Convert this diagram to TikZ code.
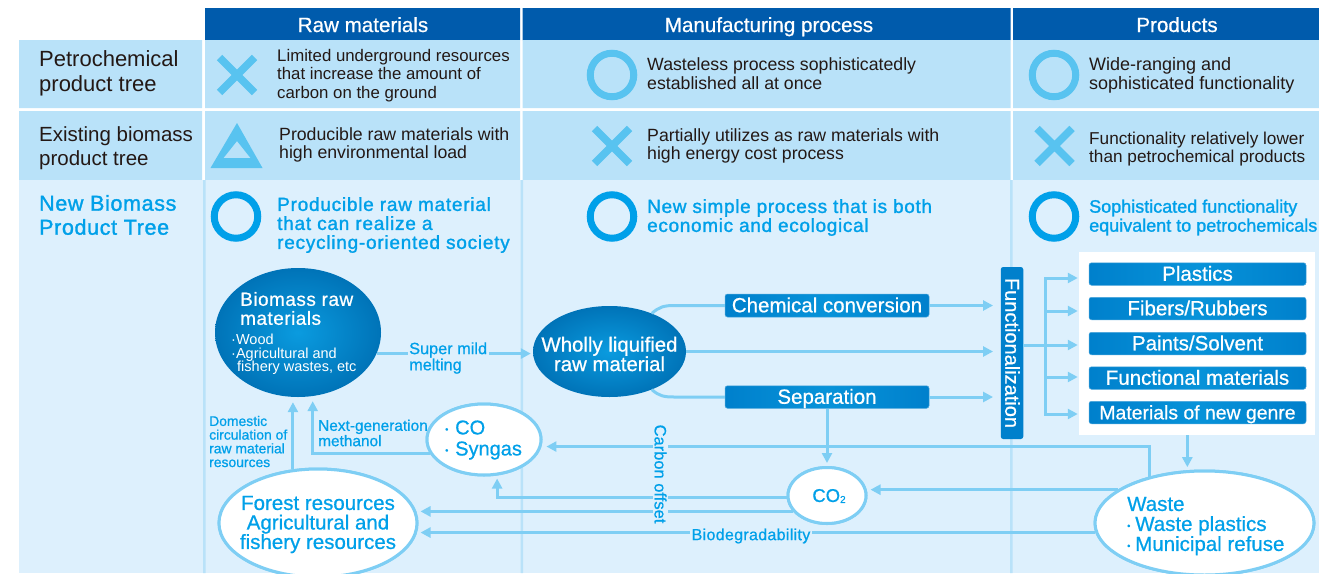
\documentclass[tikz,border=0pt]{standalone}
\usepackage{fontspec}
\setmainfont{Liberation Sans}
\newfontfamily\medfont[FakeBold=0.7]{Liberation Sans}
\newfontfamily\heavyfont[FakeBold=1.4]{Liberation Sans}
\usetikzlibrary{shapes.geometric,calc,arrows.meta}
\definecolor{headblue}{HTML}{005BAC}
\definecolor{rowblue}{HTML}{B9E2F9}
\definecolor{paleblue}{HTML}{DDF0FD}
\definecolor{iconblue}{HTML}{58C3F0}
\definecolor{cyanblue}{HTML}{00A0E9}
\definecolor{arrowblue}{HTML}{7ECEF4}
\definecolor{boxblue}{HTML}{0080CC}
\definecolor{boxlight}{HTML}{0A9BDF}
\definecolor{darktext}{HTML}{231815}
\newcommand{\fs}[2]{\fontsize{#1}{#2}\selectfont}
\newcommand{\ls}[1]{\addfontfeature{LetterSpace=#1}}
\newcommand{\blt}{\makebox[8pt][l]{\fs{9}{9}\raisebox{2pt}{•}}}
\tikzset{
  lbl/.style={anchor=west,inner sep=0pt,align=left,text=darktext},
  rowtitle/.style={lbl,font=\fs{20.5}{24}},
  celltext/.style={lbl,font=\fs{17.7}{18.8}},
  newtext/.style={lbl,text=cyanblue,font=\heavyfont\fs{19}{19}},
  headtext/.style={inner sep=0pt,text=white,text height=14.5pt,text depth=0.5pt,font=\medfont\fs{20.6}{22}},
  ring/.style={circle,draw,line width=7pt,minimum size=43.5pt,inner sep=0pt},
  crossmark/.style={draw=iconblue,line width=7.5pt},
  conn/.style={draw=arrowblue,line width=3pt},
  arr/.style={conn,-{Triangle[length=10pt,width=10pt]}},
  whiteell/.style={ellipse,draw=arrowblue,line width=3pt,fill=white,inner sep=0pt},
  darkell/.style={ellipse,inner sep=0pt,inner color=boxlight,outer color=boxblue!90!black},
  bluebox/.style={rectangle,rounded corners=2.5pt,draw=boxblue!70!white,line width=.5pt,inner sep=0pt,text=white,text height=14.5pt,text depth=1pt,left color=boxblue,right color=boxblue,middle color=boxlight!70!boxblue,font=\medfont\fs{20.5}{22}},
  barbox/.style={rectangle,rounded corners=2.5pt,fill=boxblue,inner sep=0pt,text=white,text height=14.5pt,text depth=1pt,font=\medfont\fs{20}{22}},
  tag/.style={inner sep=0pt,align=left,text=cyanblue,font=\medfont\fs{15.4}{14}},
  inell/.style={inner sep=0pt,align=left,text=cyanblue,font=\medfont\fs{20}{19.5}}
}
\begin{document}
\begin{tikzpicture}[x=1pt,y=-1pt]
\useasboundingbox (0,0) rectangle (1319,573);
\begin{scope}
\clip (0,0) rectangle (1319,573);
% bands
\fill[headblue] (205,8) rectangle (520,40) (522.5,8) rectangle (1010.5,40) (1013,8) rectangle (1319,40);
\fill[rowblue] (19,40) rectangle (202,108) (205,40) rectangle (520,108) (522.5,40) rectangle (1010.5,108) (1013,40) rectangle (1319,108);
\fill[rowblue] (19,111) rectangle (202,180) (205,111) rectangle (520,180) (522.5,111) rectangle (1010.5,180) (1013,111) rectangle (1319,180);
\fill[paleblue] (19,180) rectangle (1319,573);
\fill[rowblue] (203,180) rectangle (205.5,573) (520.5,180) rectangle (523,573) (1010,180) rectangle (1012.5,573);
% headers
\node[headtext] (h1) at (363,25) {Raw materials};
\node[headtext] (h2) at (769,25) {Manufacturing process};
\node[headtext] (h3) at (1177,25) {Products};
% row titles
\node[rowtitle,font=\fs{22}{24.5}] (t1) at (39,73.5) {Petrochemical\\product tree};
\node[rowtitle] (t2) at (39,148) {Existing biomass\\product tree};
\node[rowtitle,text=cyanblue,font=\heavyfont\fs{21.5}{24}\ls{3}] (t3) at (39,215) {New Biomass\\Product Tree};
% row 1
\draw[crossmark] (219.5,57.5) -- (254.5,92.5) (254.5,57.5) -- (219.5,92.5);
\node[celltext,font=\fs{16.8}{18.8}] (c11) at (277,75.5) {Limited underground resources\\that increase the amount of\\carbon on the ground};
\node[ring,draw=iconblue] (r12) at (612,75) {};
\node[celltext] (c12) at (647,74) {Wasteless process sophisticatedly\\established all at once};
\node[ring,draw=iconblue] (r13) at (1054,75) {};
\node[celltext,font=\fs{18}{18.8}] (c13) at (1089,75) {Wide-ranging and\\sophisticated functionality};
% row 2
\fill[iconblue,even odd rule] (237,123) -- (262.5,168) -- (210.5,168) -- cycle (237,141) -- (223.5,158) -- (250.5,158) -- cycle;
\node[celltext] (c21) at (279,145) {Producible raw materials with\\high environmental load};
\draw[crossmark] (594.5,128.5) -- (629.5,163.5) (629.5,128.5) -- (594.5,163.5);
\node[celltext] (c22) at (647,146) {Partially utilizes as raw materials with\\high energy cost process};
\draw[crossmark] (1037,128.5) -- (1072,163.5) (1072,128.5) -- (1037,163.5);
\node[celltext,font=\fs{17.2}{18.8}] (c23) at (1089,149) {Functionality relatively lower\\than petrochemical products};
% row 3
\node[ring,draw=cyanblue] (r31) at (236,216.5) {};
\node[newtext,font=\heavyfont\fs{19}{19}\ls{4}] (c31) at (277,225) {Producible raw material\\that can realize a\\recycling-oriented society};
\node[ring,draw=cyanblue] (r32) at (612,216.5) {};
\node[newtext,font=\heavyfont\fs{19}{19}\ls{3.5}] (c32) at (647,217.5) {New simple process that is both\\economic and ecological};
\node[ring,draw=cyanblue] (r33) at (1054,216.5) {};
\node[newtext,font=\heavyfont\fs{18}{19}] (c33) at (1089,217.5) {Sophisticated functionality\\equivalent to petrochemicals};
% main nodes
\node[darkell,minimum width=166pt,minimum height=129pt] (biomass) at (298,332.5) {};
\node[darkell,minimum width=153pt,minimum height=91pt] (wholly) at (609.5,351.5) {};
\node[whiteell,minimum width=114pt,minimum height=71pt] (co) at (484,439.5) {};
\node[whiteell,minimum width=198pt,minimum height=108pt] (forest) at (318,523) {};
\node[whiteell,minimum width=78pt,minimum height=56pt] (co2) at (827,495.5) {};
\node[whiteell,minimum width=219pt,minimum height=104pt] (waste) at (1204.5,523) {};
\node[fill=white,minimum width=236pt,minimum height=183pt,inner sep=0pt] (panel) at (1197,343.5) {};
\node[bluebox,minimum width=204pt,minimum height=23pt] (chem) at (827,305.5) {Chemical conversion};
\node[bluebox,minimum width=204pt,minimum height=22.5pt] (sep) at (827,397) {Separation};
\node[barbox,rotate=-90,minimum width=172pt,minimum height=22.5pt] (func) at (1012,353) {Functionalization};
\node[bluebox,minimum width=217pt,minimum height=22.5pt] (p1) at (1197.5,274) {Plastics};
\node[bluebox,minimum width=217pt,minimum height=22.5pt] (p2) at (1197.5,308.5) {Fibers/Rubbers};
\node[bluebox,minimum width=217pt,minimum height=22.5pt] (p3) at (1197.5,343.5) {Paints/Solvent};
\node[bluebox,minimum width=217pt,minimum height=22.5pt] (p4) at (1197.5,378) {Functional materials};
\node[bluebox,minimum width=217pt,minimum height=22.5pt,font=\medfont\fs{19.4}{22}] (p5) at (1197.5,412.5) {Materials of new genre};
\coordinate (trunk) at (1045,345);
\coordinate (bendtop) at (674,305.5);
\coordinate (bendbot) at (674,397);
% connectors
\draw[arr,shorten >=2pt] (biomass.-15.4) -- (biomass.-15.4 -| wholly.west);
\draw[arr,shorten >=5pt] (forest.115.6) -- (forest.115.6 |- biomass.south);
\draw[arr,shorten >=5pt] (co.195.6) -| (biomass.-77.6);
\draw[arr,shorten >=5pt] (waste.140.4) |- (co.-7);
\draw[arr,shorten >=3pt] (waste.159.5) -- (waste.159.5 -| co2.east);
\draw[arr,shorten >=2pt] (waste.185.8) -- (waste.185.8 -| forest.east);
\draw[arr,shorten >=3pt] (waste.108.8 |- panel.south) -- (waste.108.8);
\draw[arr,shorten >=3pt] (sep.south) -- (co2.north);
\draw[arr,shorten >=2pt] (co2.205.5) -- (co2.205.5 -| forest.east);
\draw[arr,shorten >=3pt] (co2.183.7) -| (co.-70.9);
\draw[conn] (wholly.42.6) .. controls (659,307) and (664,305.5) .. (bendtop) -- (chem.west);
\draw[conn] (wholly.-42.6) .. controls (659,396) and (664,397) .. (bendbot) -- (sep.west);
\draw[arr,shorten >=7.5pt] (chem.east) -- (chem.east -| func.south);
\draw[arr,shorten >=7.5pt] (wholly.east) -- (wholly.east -| func.south);
\draw[arr,shorten >=7.5pt] (sep.east) -- (sep.east -| func.south);
\draw[conn] (func.north |- trunk) -- (trunk);
\draw[arr] (trunk) |- ($(p1.west)+(-11,4)$);
\draw[arr] (trunk) |- ($(p2.west)+(-11,2.5)$);
\draw[arr] (trunk) -- ($(p3.west)+(-11,1.5)$);
\draw[arr] (trunk) |- ($(p4.west)+(-11,-1)$);
\draw[arr] (trunk) |- ($(p5.west)+(-11,1.5)$);
% redraw outlined ellipses over connector ends
\node[whiteell,minimum width=114pt,minimum height=71pt] (coT) at (co) {};
\node[whiteell,minimum width=198pt,minimum height=108pt] (forestT) at (forest) {};
\node[whiteell,minimum width=78pt,minimum height=56pt] (co2T) at (co2) {};
\node[whiteell,minimum width=219pt,minimum height=104pt] (wasteT) at (waste) {};
% ellipse texts
\node[inner sep=0pt,anchor=west,align=left,text=white,font=\medfont\fs{19}{19}\ls{2.5}] (bt1) at (240,308.5) {Biomass raw\\materials};
\node[inner sep=0pt,anchor=west,align=left,text=white,font=\fs{14.5}{13.6}] (bt2) at (231,354.5) {·Wood\\·Agricultural and\\\hspace*{6pt}fishery wastes, etc};
\node[inner sep=0pt,align=center,text=white,font=\medfont\fs{20.4}{19.5}] (wt) at (609.5,354) {Wholly liquified\\raw material};
\node[inell,anchor=west,font=\medfont\fs{20}{21}] (cot) at (445,440) {\blt\hspace*{2pt}CO\\\blt\hspace*{2pt}Syngas};
\node[inell,align=center,font=\medfont\fs{20.5}{19.5}] (ft) at (318,524.5) {Forest resources\\Agricultural and\\fishery resources};
\node[inner sep=0pt,text=cyanblue,font=\medfont\fs{18.5}{18}] (co2t) at (829,496) {CO\raisebox{-1pt}{\fs{10}{10}2}};
\node[inell,anchor=west,font=\medfont\fs{20.5}{20}] (wtx) at (1127,526) {Waste\\\blt Waste plastics\\\blt Municipal refuse};
% connector labels
\node[tag,anchor=west,fill=paleblue,inner sep=1.5pt,font=\medfont\fs{16.3}{14}] (l1) at (407.5,358) {Super mild\\melting};
\node[tag,anchor=west] (l2) at (318,433) {Next-generation\\methanol};
\node[tag,anchor=west,font=\medfont\fs{13.9}{13.7}] (l3) at (209,441.5) {Domestic\\circulation of\\raw material\\resources};
\node[tag,fill=paleblue,inner sep=1.5pt,font=\medfont\fs{16}{15}\ls{2}] (l4) at (751,536) {Biodegradability};
\node[tag,fill=paleblue,inner sep=1.5pt,rotate=-90,font=\medfont\fs{16.5}{15}] (l5) at (660.5,474) {Carbon offset};
\end{scope}
\end{tikzpicture}
\end{document}
